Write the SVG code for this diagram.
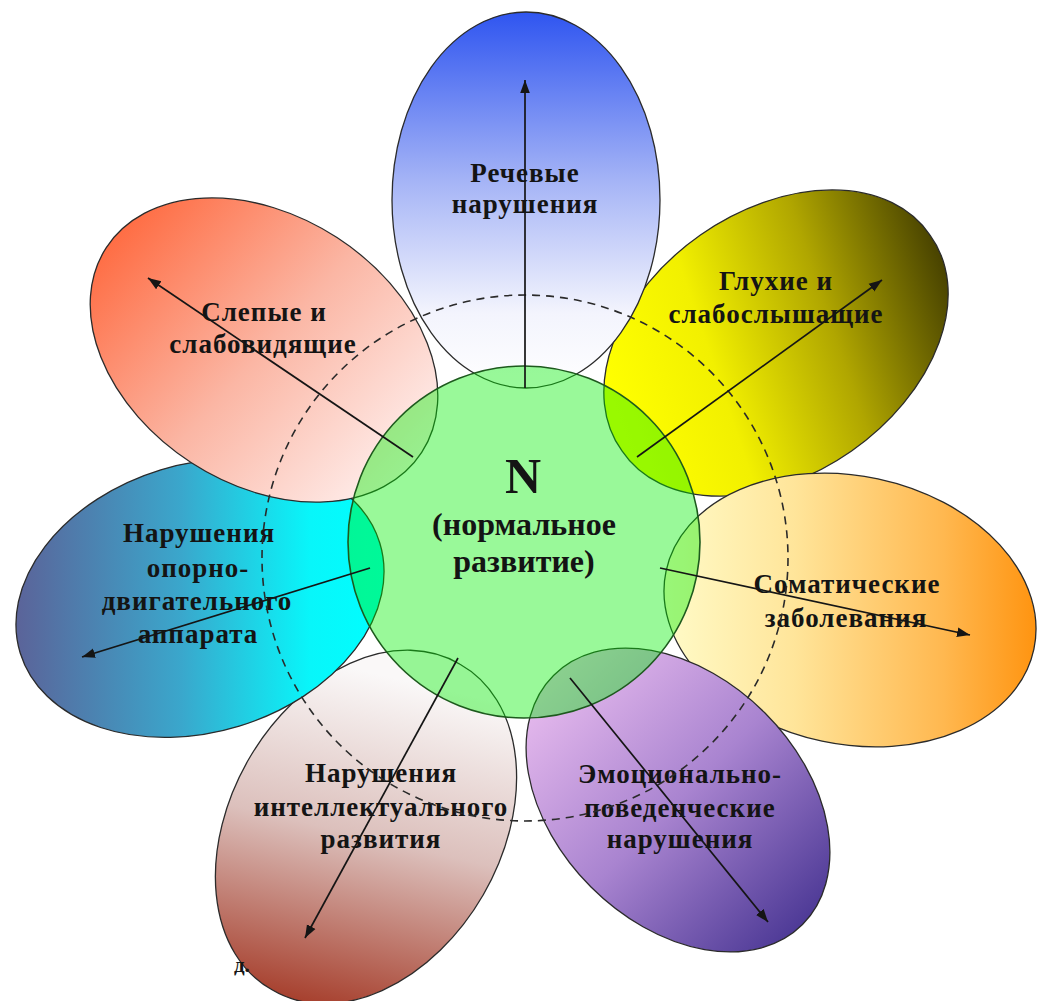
<svg xmlns="http://www.w3.org/2000/svg" width="1038" height="1001" viewBox="0 0 1038 1001">
<defs>
<style>
.petal{stroke:#2b2b2b;stroke-width:1.3}
.lbl{font-family:"Liberation Serif","Times New Roman",serif;font-weight:bold;font-size:27px;letter-spacing:1px;fill:#141414;text-anchor:middle}
.ctr{font-family:"Liberation Serif","Times New Roman",serif;font-weight:bold;fill:#141414;text-anchor:middle}
.arr{stroke:#151515;stroke-width:1.7;fill:none;marker-end:url(#ah)}
</style>
<marker id="ah" viewBox="0 0 10 10" refX="10" refY="5" markerWidth="13" markerHeight="13" orient="auto" markerUnits="userSpaceOnUse">
<path d="M0,1.3 L10,5 L0,8.7 z" fill="#151515"/>
</marker>
<linearGradient id="gBlue" x1="0" y1="0" x2="0" y2="1">
<stop offset="0" stop-color="#2f55f0"/><stop offset="0.45" stop-color="#a5b4f6"/><stop offset="0.8" stop-color="#f3f4fd"/><stop offset="1" stop-color="#ffffff"/>
</linearGradient>
<linearGradient id="gPink" x1="0" y1="0.1" x2="1" y2="0.9">
<stop offset="0" stop-color="#ff6438"/><stop offset="0.5" stop-color="#fbb6a4"/><stop offset="1" stop-color="#fff6f6"/>
</linearGradient>
<linearGradient id="gYellow" x1="0" y1="0.6" x2="1" y2="0.3">
<stop offset="0" stop-color="#ffff00"/><stop offset="0.3" stop-color="#f2f000"/><stop offset="0.65" stop-color="#b0a600"/><stop offset="1" stop-color="#4a4400"/>
</linearGradient>
<linearGradient id="gOrange" x1="0" y1="0" x2="1" y2="0">
<stop offset="0" stop-color="#fffbc8"/><stop offset="0.35" stop-color="#ffe59a"/><stop offset="0.75" stop-color="#ffb850"/><stop offset="1" stop-color="#ff9410"/>
</linearGradient>
<linearGradient id="gCyan" x1="0" y1="0" x2="1" y2="0">
<stop offset="0" stop-color="#5b6399"/><stop offset="0.45" stop-color="#3aa7cc"/><stop offset="0.8" stop-color="#08f6fa"/><stop offset="1" stop-color="#00ffff"/>
</linearGradient>
<linearGradient id="gBrown" x1="0.2" y1="0" x2="0" y2="1">
<stop offset="0" stop-color="#faf8f8"/><stop offset="0.45" stop-color="#dcc0bc"/><stop offset="1" stop-color="#a0301c"/>
</linearGradient>
<linearGradient id="gPurple" x1="0" y1="0" x2="1" y2="1">
<stop offset="0" stop-color="#f4c6f4"/><stop offset="0.5" stop-color="#a984d0"/><stop offset="1" stop-color="#3a2a8a"/>
</linearGradient>
</defs>
<rect width="1038" height="1001" fill="#ffffff"/>

<g id="petal-brown">
<path class="petal" fill="url(#gBrown)" d="M272,989.8 A188,134 120 1 0 460,664.2 A188,134 120 1 0 272,989.8 Z"/>
<text class="lbl" x="381" y="782">Нарушения</text>
<text class="lbl" x="381" y="816">интеллектуального</text>
<text class="lbl" x="381" y="848">развития</text>
</g>
<g id="petal-cyan">
<path class="petal" fill="url(#gCyan)" d="M379.8,543 A188,134 -17 1 0 20.2,653 A188,134 -17 1 0 379.8,543 Z"/>
<text class="lbl" x="199" y="542">Нарушения</text>
<text class="lbl" x="198" y="577">опорно-</text>
<text class="lbl" x="197" y="610">двигательного</text>
<text class="lbl" x="198" y="643">аппарата</text>
</g>
<g id="petal-pink">
<path class="petal" fill="url(#gPink)" d="M421.7,452.4 A188,134 33 1 0 106.3,247.6 A188,134 33 1 0 421.7,452.4 Z"/>
<text class="lbl" x="264" y="321">Слепые и</text>
<text class="lbl" x="263" y="353">слабовидящие</text>
</g>
<g id="petal-yellow">
<path class="petal" fill="url(#gYellow)" d="M930,235.2 A188,130 -35 1 0 622,450.8 A188,130 -35 1 0 930,235.2 Z"/>
<text class="lbl" x="776" y="290">Глухие и</text>
<text class="lbl" x="776" y="323">слабослышащие</text>
</g>
<g id="petal-blue">
<ellipse class="petal" cx="526" cy="200" rx="134" ry="188" fill="url(#gBlue)"/>
<text class="lbl" x="525" y="182">Речевые</text>
<text class="lbl" x="525" y="213">нарушения</text>
</g>
<g id="petal-orange">
<path class="petal" fill="url(#gOrange)" d="M1033.9,649.1 A188,134 12 1 0 666.1,570.9 A188,134 12 1 0 1033.9,649.1 Z"/>
<text class="lbl" x="847" y="593">Соматические</text>
<text class="lbl" x="846" y="627">заболевания</text>
</g>
<g id="petal-purple">
<path class="petal" fill="url(#gPurple)" d="M802.5,924.5 A176,123 45 1 0 553.5,675.5 A176,123 45 1 0 802.5,924.5 Z"/>
<text class="lbl" x="680" y="783">Эмоционально-</text>
<text class="lbl" x="680" y="817">поведенческие</text>
<text class="lbl" x="680" y="848">нарушения</text>
</g>

<g id="center-node">
<circle cx="524" cy="542" r="176" fill="#00f000" fill-opacity="0.4" stroke="#1d5a1d" stroke-width="1.6"/>
<text class="ctr" x="523" y="493" font-size="50">N</text>
<text class="ctr" x="524" y="535" font-size="32">(нормальное</text>
<text class="ctr" x="524" y="572" font-size="32">развитие)</text>
</g>

<g id="ring">
<circle cx="525" cy="558" r="263" fill="none" stroke="#2a2a2a" stroke-width="1.6" stroke-dasharray="8 6"/>
</g>

<g id="connectors">
<line class="arr" x1="525" y1="388" x2="525" y2="80"/>
<line class="arr" x1="413" y1="457" x2="148" y2="278"/>
<line class="arr" x1="637" y1="457" x2="882" y2="280"/>
<line class="arr" x1="370" y1="568" x2="82" y2="657"/>
<line class="arr" x1="660" y1="568" x2="970" y2="635"/>
<line class="arr" x1="458" y1="658" x2="305" y2="938"/>
<line class="arr" x1="570" y1="678" x2="768" y2="922"/>
</g>

<text id="note" x="234" y="972" font-family="Liberation Serif, serif" font-weight="bold" font-size="21" fill="#161616">д.</text>
</svg>
